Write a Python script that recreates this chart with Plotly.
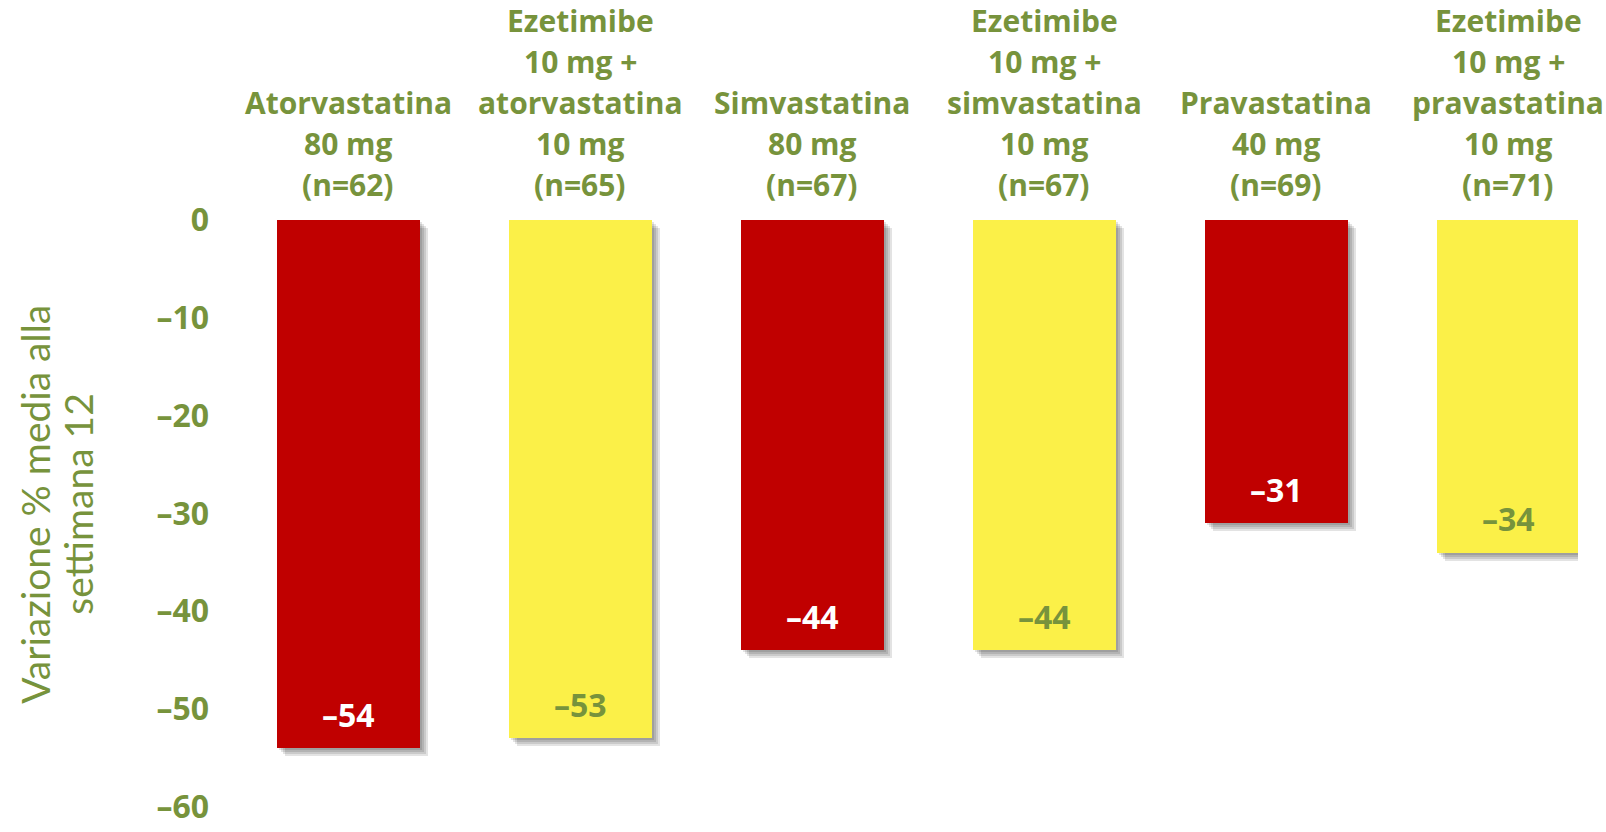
import plotly.graph_objects as go

# Treatment groups (label lines), group sizes and mean % change at week 12
groups = [
    "Atorvastatina<br>80 mg",
    "Ezetimibe<br>10 mg +<br>atorvastatina<br>10 mg",
    "Simvastatina<br>80 mg",
    "Ezetimibe<br>10 mg +<br>simvastatina<br>10 mg",
    "Pravastatina<br>40 mg",
    "Ezetimibe<br>10 mg +<br>pravastatina<br>10 mg",
]
n_patients = [62, 65, 67, 67, 69, 71]
pct_change = [-54, -53, -44, -44, -31, -34]
is_combo = [False, True, False, True, False, True]
y_ticks = [0, -10, -20, -30, -40, -50, -60]
y_title_lines = ["Variazione % media alla", "settimana 12"]

GREEN = "#77933C"
RED = "#C00000"
YELLOW = "#FBF048"
BOLD_FONT = "Open Sans"
TITLE_FONT = "Lato"

# Plot geometry (pixels)
W, H = 1606, 832
ML, MR, MT, MB = 232, 28, 220, 25
X_RANGE = [-0.5, 5.3]
Y_RANGE = [-60.01, 0.0]
BAR_W = 0.616
HEADER_LINE = 41
px_per_x = (W - ML - MR) / (X_RANGE[1] - X_RANGE[0])
px_per_y = (H - MT - MB) / (Y_RANGE[1] - Y_RANGE[0])

xs = list(range(len(groups)))
fill = [YELLOW if c else RED for c in is_combo]
label_col = [GREEN if c else "white" for c in is_combo]

fig = go.Figure()

# soft drop shadow: stacked translucent copies shifted right/down
for step in (2, 4, 6, 8):
    dx = step / px_per_x
    dy = step / px_per_y
    fig.add_trace(go.Bar(
        x=xs, y=pct_change, base=[-dy] * len(xs),
        width=BAR_W, offset=-BAR_W / 2 + dx,
        marker=dict(color="rgba(0,0,0,0.11)", line=dict(width=0)),
        hoverinfo="skip", showlegend=False,
    ))

fig.add_trace(go.Bar(
    x=xs, y=pct_change, width=BAR_W, offset=-BAR_W / 2,
    marker=dict(color=fill, line=dict(width=0)),
    showlegend=False,
))

annotations = []
# value labels near the bar ends
for x, v, c in zip(xs, pct_change, label_col):
    annotations.append(dict(
        x=x, y=v, xref="x", yref="y", text=f"–{abs(v)}",
        showarrow=False, yanchor="middle", yshift=34,
        font=dict(family=BOLD_FONT, size=32, color=c, weight="bold"),
    ))
# group headers above each bar, one line per annotation, stacked upward
for x, g, n in zip(xs, groups, n_patients):
    lines = f"{g}<br>(n={n})".split("<br>")
    for j, line in enumerate(reversed(lines)):
        annotations.append(dict(
            x=x, y=1, xref="x", yref="paper", text=line,
            showarrow=False, yanchor="middle", yshift=36 + j * HEADER_LINE,
            font=dict(family=BOLD_FONT, size=30, color=GREEN, weight="bold"),
        ))
# y-axis title, two lines
for shift, line in zip((-197, -154), y_title_lines):
    annotations.append(dict(
        x=0, y=0.515, xref="paper", yref="paper", xshift=shift,
        text=line, textangle=-90,
        showarrow=False, xanchor="center", yanchor="middle",
        font=dict(family=TITLE_FONT, size=39, color=GREEN),
    ))

fig.update_layout(
    width=W, height=H,
    margin=dict(l=ML, r=MR, t=MT, b=MB, autoexpand=False),
    paper_bgcolor="white", plot_bgcolor="white",
    barmode="overlay", bargap=0,
    annotations=annotations,
    xaxis=dict(range=X_RANGE, showticklabels=False, showgrid=False,
               zeroline=False, showline=False, fixedrange=True,
               automargin=False),
    yaxis=dict(range=Y_RANGE, tickvals=y_ticks,
               ticktext=["0" if t == 0 else f"–{abs(t)}" for t in y_ticks],
               tickfont=dict(family=BOLD_FONT, size=32, color=GREEN, weight="bold"),
               ticklabelstandoff=22, ticklabeloverflow="allow",
               automargin=False, showgrid=False, zeroline=False,
               showline=False, fixedrange=True),
)

fig.write_html("out.html")
